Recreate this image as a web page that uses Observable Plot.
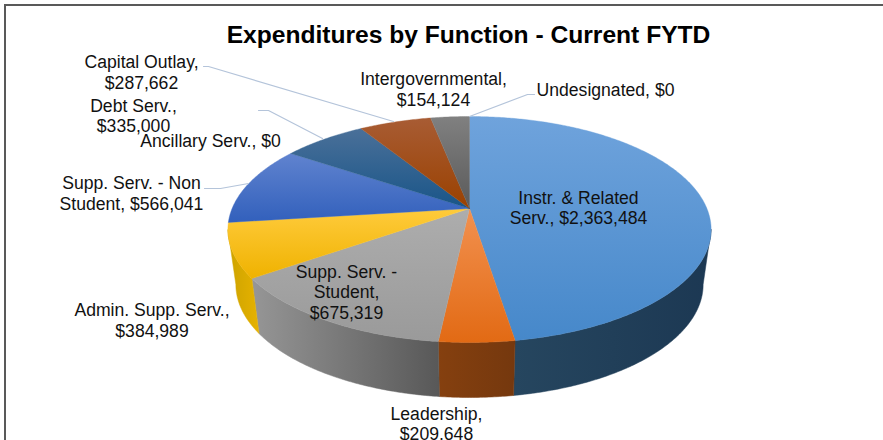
<!DOCTYPE html>
<html>
<head>
<meta charset="utf-8">
<script src="https://cdn.jsdelivr.net/npm/d3@7"></script>
<script src="https://cdn.jsdelivr.net/npm/@observablehq/plot@0.6"></script>
<style>
  html, body { margin: 0; padding: 0; background: #fff; width: 883px; height: 440px; overflow: hidden; }
  #frame { position: absolute; left: 4px; top: 4px; right: 0; bottom: 0; border-top: 2px solid #595959; border-left: 2px solid #595959; }
  #title { position: relative; box-sizing: border-box; width: 883px; height: 46px; padding-left: 54px; text-align: center;
           font: bold 24.6px/70px "Liberation Sans", Arial, sans-serif; color: #000; white-space: nowrap; }
  #chart { position: relative; display: block; height: 394px; }
  #chart svg { display: block; background: transparent; overflow: hidden; }
</style>
</head>
<body>
<div id="frame"></div>
<div id="title">Expenditures by Function - Current FYTD</div>
<div id="chart"></div>
<script>
// ---- data ----
const categories = ["Instr. & Related Serv.", "Leadership", "Supp. Serv. - Student", "Admin. Supp. Serv.",
  "Supp. Serv. - Non Student", "Ancillary Serv.", "Debt Serv.", "Capital Outlay", "Intergovernmental", "Undesignated"];
const values = [2363484, 209648, 675319, 384989, 566041, 0, 335000, 287662, 154124, 0];
const labelTexts = ["Instr. & Related\nServ., $2,363,484", "Leadership,\n$209,648", "Supp. Serv. -\nStudent,\n$675,319",
  "Admin. Supp. Serv.,\n$384,989", "Supp. Serv. - Non\nStudent, $566,041", "Ancillary Serv., $0", "Debt Serv.,\n$335,000",
  "Capital Outlay,\n$287,662", "Intergovernmental,\n$154,124", "Undesignated, $0"];

// ---- styling and layout, separate from the data ----
const topStops = [["#6fa3dc", "#4688ca"], ["#f29150", "#e26a14"], ["#adadad", "#9a9a9a"], ["#ffcb3c", "#efb200"],
  ["#6083cf", "#3260bc"], ["#888", "#888"], ["#4a7099", "#195588"], ["#a85c34", "#9a4100"], ["#808080", "#5a5a5a"], ["#888", "#888"]];
const wallStops = [["#26465f", "#1c3853"], ["#85400f", "#75380e"], ["#969696", "#585858"], ["#cda300", "#e6b200"],
  ["#2d4a85", "#2d4a85"], ["#555", "#555"], ["#1c3f5e", "#1c3f5e"], ["#6a2f05", "#6a2f05"], ["#444", "#444"], ["#555", "#555"]];
const labelX = [578, 436, 346, 151.5, 131, 210, 133, 141, 433, 605];
const labelY = [207, 423, 291, 319.5, 192.5, 139.5, 115, 71.5, 88.5, 88.5];
const leaders = [
  {id: "Capital Outlay", xs: [203, 208, 393], ys: [66, 66, 121]},
  {id: "Debt Serv.", xs: [258, 268, 322], ys: [110, 110, 138]},
  {id: "Supp. Serv. - Non Student", xs: [204, 220, 248], ys: [188, 188, 183]},
  {id: "Undesignated", xs: [469, 527, 534], ys: [116, 94, 94]}
];
const pie3d = {cx: 469, cy: 208, a: 237.4, b: 109.1, k: -0.1858, depth: 55, baseScale: 0.967};

// perspective projection of a point at angle theta (clockwise from the far side of the disc)
function project(theta, r = 1) {
  const u = r * Math.sin(theta), v = -r * Math.cos(theta), w = 1 + pie3d.k * v;
  return {x: pie3d.cx + pie3d.a * u / w, y: pie3d.cy + pie3d.b * v / w};
}
function arcPoints(a0, a1) {
  const n = Math.max(2, Math.ceil((a1 - a0) / 0.01));
  return d3.range(n + 1).map(i => project(a0 + (a1 - a0) * i / n));
}
// angular range where the rim faces the viewer
const frontV = -pie3d.k;
const front0 = Math.acos(-frontV), front1 = 2 * Math.PI - front0;

const arcs = d3.pie().sort(null).value(d => d)(values);
const slices = arcs.map((d, i) => ({i, a0: d.startAngle, a1: d.endAngle})).filter(d => d.a1 > d.a0);

const wallMarks = slices.flatMap(({i, a0, a1}) => {
  const s = Math.max(a0, front0), e = Math.min(a1, front1);
  if (e <= s) return [];
  const rim = arcPoints(s, e);
  const base = rim.map(p => ({x: pie3d.cx + (p.x - pie3d.cx) * pie3d.baseScale, y: p.y + pie3d.depth})).reverse();
  return [Plot.line([...rim, ...base, rim[0]], {x: "x", y: "y", fill: `url(#wall${i})`, stroke: `url(#wall${i})`, strokeWidth: 0.5})];
});
const topMarks = slices.map(({i, a0, a1}) => {
  const pts = [{x: pie3d.cx, y: pie3d.cy}, ...arcPoints(a0, a1), {x: pie3d.cx, y: pie3d.cy}];
  return Plot.line(pts, {x: "x", y: "y", fill: `url(#top${i})`, stroke: `url(#top${i})`, strokeWidth: 0.4});
});

function gradientDefs() {
  const defs = d3.create("svg:defs");
  const add = (id, stops, horizontal) => {
    const g = defs.append("linearGradient").attr("id", id)
      .attr("x1", 0).attr("y1", 0).attr("x2", horizontal ? 1 : 0).attr("y2", horizontal ? 0 : 1);
    g.append("stop").attr("offset", "0%").attr("stop-color", stops[0]);
    g.append("stop").attr("offset", "100%").attr("stop-color", stops[1]);
  };
  topStops.forEach((s, i) => add(`top${i}`, s, false));
  wallStops.forEach((s, i) => add(`wall${i}`, s, true));
  return defs.node();
}

const labels = labelTexts.map((text, i) => ({text, x: labelX[i], y: labelY[i], name: categories[i], value: values[i]}));

const chart = Plot.plot({
  width: 883,
  height: 394,
  margin: 0,
  x: {domain: [0, 883], range: [0, 883], axis: null},
  y: {domain: [46, 440], range: [0, 394], axis: null},
  style: {background: "transparent"},
  marks: [
    gradientDefs,
    ...wallMarks,
    ...topMarks,
    ...leaders.map(l => Plot.line(l.xs.map((x, j) => ({x, y: l.ys[j]})), {x: "x", y: "y", stroke: "#b4c4da", strokeWidth: 1.2})),
    Plot.text(labels, {
      x: "x", y: "y", text: "text", textAnchor: "middle", lineAnchor: "middle", lineHeight: 1.165,
      fontFamily: "'Liberation Sans', Arial, sans-serif", fontSize: 17.6, fill: "#111"
    })
  ]
});
document.getElementById("chart").append(chart);
</script>
</body>
</html>
